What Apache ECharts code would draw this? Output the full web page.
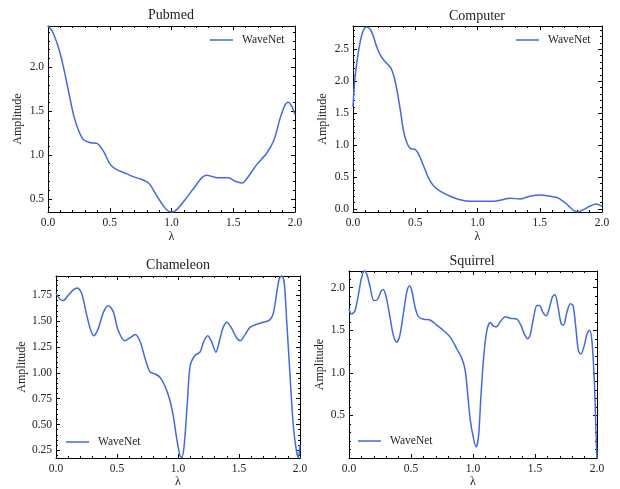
<!DOCTYPE html>
<html>
<head>
<meta charset="utf-8">
<script src="https://cdn.jsdelivr.net/npm/echarts@6/dist/echarts.min.js"></script>
<style>
  html, body { margin: 0; padding: 0; background: #fff; }
  #chart { width: 620px; height: 489px; }
</style>
</head>
<body>
<div id="chart"></div>
<script>
// ---- data ----
const pubmedX = [0, 0.035, 0.09, 0.13, 0.17, 0.21, 0.25, 0.29, 0.345, 0.40, 0.45, 0.505, 0.56, 0.63, 0.695, 0.76, 0.815, 0.87, 0.92, 0.965, 1.005, 1.045, 1.11, 1.18, 1.245, 1.285, 1.34, 1.39, 1.46, 1.515, 1.57, 1.62, 1.69, 1.77, 1.83, 1.88, 1.92, 1.945, 1.975, 2.0];
const pubmedY = [2.47, 2.41, 2.20, 1.97, 1.70, 1.44, 1.27, 1.17, 1.14, 1.13, 1.04, 0.89, 0.83, 0.79, 0.75, 0.72, 0.68, 0.56, 0.45, 0.37, 0.35, 0.38, 0.49, 0.62, 0.74, 0.77, 0.75, 0.74, 0.74, 0.70, 0.68, 0.75, 0.89, 1.02, 1.17, 1.42, 1.57, 1.60, 1.55, 1.46];

const computerX = [0, 0.013, 0.03, 0.06, 0.086, 0.11, 0.14, 0.166, 0.19, 0.22, 0.26, 0.30, 0.327, 0.353, 0.38, 0.407, 0.434, 0.46, 0.50, 0.527, 0.568, 0.608, 0.648, 0.70, 0.78, 0.86, 0.94, 1.02, 1.13, 1.20, 1.26, 1.34, 1.42, 1.50, 1.585, 1.65, 1.72, 1.77, 1.81, 1.85, 1.91, 1.955, 2.0];
const computerY = [1.60, 1.99, 2.28, 2.64, 2.81, 2.85, 2.81, 2.69, 2.54, 2.41, 2.30, 2.22, 2.09, 1.86, 1.55, 1.21, 1.03, 0.95, 0.93, 0.86, 0.67, 0.48, 0.36, 0.28, 0.20, 0.145, 0.12, 0.12, 0.12, 0.145, 0.17, 0.155, 0.20, 0.22, 0.20, 0.17, 0.07, -0.02, -0.045, -0.01, 0.05, 0.08, 0.04];

const chameleonX = [0, 0.027, 0.06, 0.10, 0.14, 0.175, 0.21, 0.246, 0.28, 0.31, 0.347, 0.39, 0.43, 0.47, 0.51, 0.566, 0.607, 0.65, 0.69, 0.73, 0.77, 0.81, 0.85, 0.89, 0.93, 0.96, 0.99, 1.016, 1.03, 1.05, 1.077, 1.10, 1.14, 1.18, 1.21, 1.243, 1.276, 1.31, 1.344, 1.37, 1.40, 1.44, 1.48, 1.51, 1.55, 1.59, 1.645, 1.70, 1.75, 1.78, 1.81, 1.83, 1.85, 1.87, 1.89, 1.92, 1.945, 1.97, 1.986, 2.0];
const chameleonY = [1.77, 1.72, 1.70, 1.75, 1.80, 1.82, 1.77, 1.59, 1.43, 1.36, 1.43, 1.59, 1.65, 1.59, 1.41, 1.31, 1.34, 1.37, 1.30, 1.14, 1.01, 0.99, 0.96, 0.88, 0.75, 0.59, 0.36, 0.20, 0.18, 0.29, 0.72, 1.07, 1.17, 1.20, 1.30, 1.36, 1.30, 1.20, 1.33, 1.44, 1.49, 1.43, 1.34, 1.31, 1.37, 1.44, 1.47, 1.49, 1.51, 1.57, 1.78, 1.91, 1.94, 1.88, 1.52, 0.94, 0.49, 0.25, 0.18, 0.30];

const squirrelX = [0, 0.02, 0.048, 0.075, 0.10, 0.124, 0.143, 0.17, 0.20, 0.23, 0.256, 0.277, 0.30, 0.33, 0.358, 0.385, 0.41, 0.44, 0.466, 0.487, 0.506, 0.533, 0.56, 0.60, 0.654, 0.708, 0.76, 0.816, 0.87, 0.91, 0.937, 0.956, 0.977, 1.004, 1.026, 1.045, 1.063, 1.085, 1.112, 1.14, 1.166, 1.19, 1.22, 1.26, 1.30, 1.354, 1.386, 1.413, 1.44, 1.46, 1.49, 1.515, 1.537, 1.564, 1.59, 1.61, 1.64, 1.66, 1.684, 1.71, 1.73, 1.757, 1.785, 1.807, 1.83, 1.85, 1.87, 1.897, 1.92, 1.94, 1.96, 1.98, 1.992, 2.0];
const squirrelY = [1.75, 1.69, 1.73, 1.91, 2.11, 2.20, 2.16, 2.01, 1.85, 1.86, 1.95, 1.98, 1.89, 1.66, 1.44, 1.36, 1.44, 1.71, 1.95, 2.02, 1.97, 1.77, 1.66, 1.63, 1.62, 1.56, 1.50, 1.42, 1.28, 1.17, 1.03, 0.77, 0.46, 0.23, 0.13, 0.26, 0.70, 1.17, 1.50, 1.59, 1.55, 1.54, 1.60, 1.66, 1.64, 1.63, 1.56, 1.46, 1.40, 1.44, 1.66, 1.79, 1.79, 1.71, 1.67, 1.73, 1.89, 1.92, 1.79, 1.58, 1.56, 1.71, 1.81, 1.79, 1.52, 1.26, 1.22, 1.32, 1.46, 1.50, 1.36, 0.85, 0.30, 0.0];

// ---- ticks ----
const xTicks = [0, 0.5, 1.0, 1.5, 2.0];
const xMinorTicks = [0.1, 0.2, 0.3, 0.4, 0.6, 0.7, 0.8, 0.9, 1.1, 1.2, 1.3, 1.4, 1.6, 1.7, 1.8, 1.9];
const pubmedTicks = [0.5, 1.0, 1.5, 2.0];
const pubmedMinor = [0.4, 0.6, 0.7, 0.8, 0.9, 1.1, 1.2, 1.3, 1.4, 1.6, 1.7, 1.8, 1.9, 2.1, 2.2, 2.3, 2.4];
const computerTicks = [0.0, 0.5, 1.0, 1.5, 2.0, 2.5];
const computerMinor = [0.1, 0.2, 0.3, 0.4, 0.6, 0.7, 0.8, 0.9, 1.1, 1.2, 1.3, 1.4, 1.6, 1.7, 1.8, 1.9, 2.1, 2.2, 2.3, 2.4, 2.6, 2.7, 2.8];
const chameleonTicks = [0.25, 0.5, 0.75, 1.0, 1.25, 1.5, 1.75];
const chameleonMinor = [0.2, 0.3, 0.35, 0.4, 0.45, 0.55, 0.6, 0.65, 0.7, 0.8, 0.85, 0.9, 0.95, 1.05, 1.1, 1.15, 1.2, 1.3, 1.35, 1.4, 1.45, 1.55, 1.6, 1.65, 1.7, 1.8, 1.85, 1.9];
const squirrelTicks = [0.5, 1.0, 1.5, 2.0];
const squirrelMinor = [0.1, 0.2, 0.3, 0.4, 0.6, 0.7, 0.8, 0.9, 1.1, 1.2, 1.3, 1.4, 1.6, 1.7, 1.8, 1.9, 2.1];

const FONT = '"Liberation Serif", "DejaVu Serif", serif';
const INK = '#222';
const BLUE = '#4169e1';

const panels = [
  { title: 'Pubmed', xs: pubmedX, ys: pubmedY, yMin: 0.35, yMax: 2.47, yTicks: pubmedTicks, yMinor: pubmedMinor, digits: 1,
    grid: { left: 48, top: 26, width: 247, height: 186 }, titleX: 171, titleY: 8, yGap: 24, xGap: 19,
    legend: { left: 210, top: 34 } },
  { title: 'Computer', xs: computerX, ys: computerY, yMin: -0.047, yMax: 2.865, yTicks: computerTicks, yMinor: computerMinor, digits: 1,
    grid: { left: 353, top: 26, width: 249, height: 186 }, titleX: 477, titleY: 9, yGap: 24, xGap: 19,
    legend: { left: 516, top: 34 } },
  { title: 'Chameleon', xs: chameleonX, ys: chameleonY, yMin: 0.176, yMax: 1.937, yTicks: chameleonTicks, yMinor: chameleonMinor, digits: 2,
    grid: { left: 56, top: 276, width: 244, height: 182 }, titleX: 178, titleY: 258, yGap: 28, xGap: 18,
    legend: { left: 66, top: 436 } },
  { title: 'Squirrel', xs: squirrelX, ys: squirrelY, yMin: 0, yMax: 2.196, yTicks: squirrelTicks, yMinor: squirrelMinor, digits: 1,
    grid: { left: 349, top: 271, width: 248, height: 187 }, titleX: 472, titleY: 254, yGap: 23, xGap: 18,
    legend: { left: 358, top: 435 } }
];

function tickAxis(gi, position, min, max, values, length, opts) {
  return Object.assign({
    type: 'value', gridIndex: gi, position: position, min: min, max: max,
    axisLine: { show: false, onZero: false },
    axisTick: { show: true, inside: true, length: length, customValues: values, lineStyle: { color: '#000', width: 1 } },
    axisLabel: { show: false },
    splitLine: { show: false }
  }, opts || {});
}

const option = { animation: false, title: [], legend: [], grid: [], xAxis: [], yAxis: [], series: [] };

panels.forEach((p, gi) => {
  option.grid.push(Object.assign({ containLabel: false }, p.grid));
  option.title.push({
    text: p.title, left: p.titleX, top: p.titleY, textAlign: 'center', padding: 0,
    textStyle: { fontFamily: FONT, fontSize: 14, fontWeight: 'normal', color: INK }
  });
  option.legend.push({
    left: p.legend.left, top: p.legend.top, padding: 0, itemWidth: 23, itemHeight: 1.5,
    icon: 'rect', data: ['WaveNet'],
    itemStyle: { color: BLUE },
    textStyle: { fontFamily: FONT, fontSize: 11.5, color: INK, padding: [0, 0, 0, 4] }
  });

  const xi = option.xAxis.length;
  const yi = option.yAxis.length;
  // bottom / left axes carry labels, top / right only ticks
  option.xAxis.push(tickAxis(gi, 'bottom', 0, 2, xTicks, 4, {
    axisLine: { show: true, onZero: false, lineStyle: { color: '#000', width: 1 } },
    axisLabel: { show: true, customValues: xTicks, formatter: v => v.toFixed(1), margin: 5,
      fontFamily: FONT, fontSize: 11.5, color: INK },
    name: 'λ', nameLocation: 'middle', nameGap: p.xGap,
    nameTextStyle: { fontFamily: FONT, fontSize: 12, color: INK }
  }));
  option.xAxis.push(tickAxis(gi, 'bottom', 0, 2, xMinorTicks, 2));
  option.xAxis.push(tickAxis(gi, 'top', 0, 2, xTicks, 4, {
    axisLine: { show: true, onZero: false, lineStyle: { color: '#000', width: 1 } }
  }));
  option.xAxis.push(tickAxis(gi, 'top', 0, 2, xMinorTicks, 2));

  option.yAxis.push(tickAxis(gi, 'left', p.yMin, p.yMax, p.yTicks, 4, {
    axisLine: { show: true, onZero: false, lineStyle: { color: '#000', width: 1 } },
    axisLabel: { show: true, customValues: p.yTicks, formatter: v => v.toFixed(p.digits), margin: 4,
      fontFamily: FONT, fontSize: 11.5, color: INK },
    name: 'Amplitude', nameLocation: 'middle', nameGap: p.yGap,
    nameTextStyle: { fontFamily: FONT, fontSize: 12, color: INK }
  }));
  option.yAxis.push(tickAxis(gi, 'left', p.yMin, p.yMax, p.yMinor, 2));
  option.yAxis.push(tickAxis(gi, 'right', p.yMin, p.yMax, p.yTicks, 4, {
    axisLine: { show: true, onZero: false, lineStyle: { color: '#000', width: 1 } }
  }));
  option.yAxis.push(tickAxis(gi, 'right', p.yMin, p.yMax, p.yMinor, 2));

  option.series.push({
    name: 'WaveNet', type: 'line', xAxisIndex: xi, yAxisIndex: yi,
    data: p.xs.map((x, i) => [x, p.ys[i]]),
    smooth: 0.3, symbol: 'none', showSymbol: false, clip: true,
    lineStyle: { color: BLUE, width: 1.5 }, itemStyle: { color: BLUE }
  });
});

const chart = echarts.init(document.getElementById('chart'));
chart.setOption(option);
</script>
</body>
</html>
